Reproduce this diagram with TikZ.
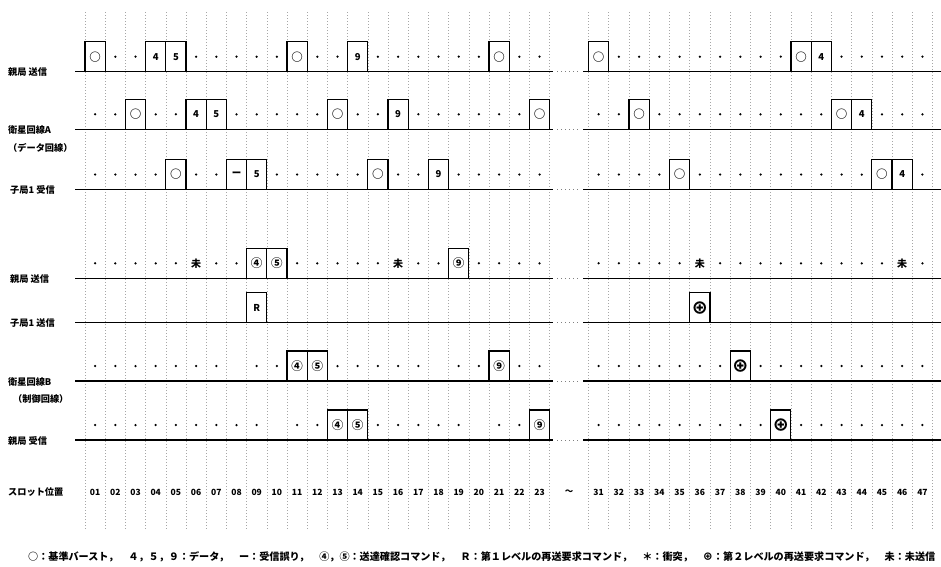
\documentclass[tikz,border=0pt]{standalone}
\usepackage{fontspec}
\newfontfamily\jp{Noto Sans CJK JP}
\newcommand\sym[1]{{\fontsize{11.5}{11.5}\selectfont #1}}
\newcommand\plussym{{\fontsize{17}{17}\selectfont ⊕}}
\begin{document}
\begin{tikzpicture}[x=1pt,y=-1pt,
  declare function={sx(\k)=(\k<30)*(85+(\k-0.5)*20.2)+(\k>30)*(588.5+(\k-30.5)*20.24);},
  slotbox/.style={draw=black,line width=1.2pt,fill=white,minimum width=20.2pt,minimum height=30pt,inner sep=0pt,font=\jp\bfseries\fontsize{9.5}{9.5}\selectfont},
  unsent/.style={inner sep=0pt,font=\jp\bfseries\fontsize{10}{10}\selectfont},
  lab/.style={anchor=west,inner sep=0pt,font=\jp\bfseries\fontsize{9.2}{9.5}\selectfont},
  slotnum/.style={inner sep=0pt,font=\jp\bfseries\fontsize{8.5}{9}\selectfont},
  vgrid/.style={gray!70,line width=0.6pt,dash pattern=on 0.8pt off 2.2pt},
  rowline/.style={black,line width=1.3pt},
  gapdots/.style={gray,line width=0.8pt,dash pattern=on 1pt off 3pt},
  dotmark/.style={fill=black}
]
\useasboundingbox (0,0) rectangle (941,566);
% vertical slot grid
\foreach \k in {1,...,24} \draw[vgrid] ({85+(\k-1)*20.2},12) -- ({85+(\k-1)*20.2},530);
\foreach \k in {31,...,48} \draw[vgrid] ({588.5+(\k-31)*20.24},12) -- ({588.5+(\k-31)*20.24},530);
% row lines
\foreach \b in {71.7,129.3,189.5,278.3,322.7,381,440}{
  \draw[rowline] (75,\b) -- (553,\b);
  \draw[gapdots] (557,\b) -- (581,\b);
  \draw[rowline] (583,\b) -- (941,\b);
}
% row labels
\node[lab] (l1) at (8,72) {親局 送信};
\node[lab] (l2) at (8,130) {衛星回線A};
\node[lab] (l2b) at (8,148) {（データ回線）};
\node[lab] (l3) at (10,190) {子局1 受信};
\node[lab] (l4) at (10,279) {親局 送信};
\node[lab] (l5) at (10,323) {子局1 送信};
\node[lab] (l6) at (8,382) {衛星回線B};
\node[lab] (l6b) at (13,399) {（制御回線）};
\node[lab] (l7) at (8,441) {親局 受信};
\node[lab] (l8) at (8,492) {スロット位置};
% row 1
\foreach \k in {2,3,6,7,8,9,10,12,13,15,16,17,18,19,20,22,23,32,33,34,35,36,37,38,39,40,43,44,45,46,47}
  \fill[dotmark] ({sx(\k)},56.7) circle (1.25pt);
\node[slotbox] (a01) at ({sx(1)},56.7) {\sym{○}};
\node[slotbox] (a04) at ({sx(4)},56.7) {4};
\node[slotbox] (a05) at ({sx(5)},56.7) {5};
\node[slotbox] (a11) at ({sx(11)},56.7) {\sym{○}};
\node[slotbox] (a14) at ({sx(14)},56.7) {9};
\node[slotbox] (a21) at ({sx(21)},56.7) {\sym{○}};
\node[slotbox] (a31) at ({sx(31)},56.7) {\sym{○}};
\node[slotbox] (a41) at ({sx(41)},56.7) {\sym{○}};
\node[slotbox] (a42) at ({sx(42)},56.7) {4};
% row 2
\foreach \k in {1,2,4,5,8,9,10,11,12,14,15,17,18,19,20,21,22,31,32,34,35,36,37,38,39,40,41,42,45,46,47}
  \fill[dotmark] ({sx(\k)},114.3) circle (1.25pt);
\node[slotbox] (b03) at ({sx(3)},114.3) {\sym{○}};
\node[slotbox] (b06) at ({sx(6)},114.3) {4};
\node[slotbox] (b07) at ({sx(7)},114.3) {5};
\node[slotbox] (b13) at ({sx(13)},114.3) {\sym{○}};
\node[slotbox] (b16) at ({sx(16)},114.3) {9};
\node[slotbox] (b23) at ({sx(23)},114.3) {\sym{○}};
\node[slotbox] (b33) at ({sx(33)},114.3) {\sym{○}};
\node[slotbox] (b43) at ({sx(43)},114.3) {\sym{○}};
\node[slotbox] (b44) at ({sx(44)},114.3) {4};
% row 3
\foreach \k in {1,2,3,4,6,7,10,11,12,13,14,16,17,19,20,21,22,23,31,32,33,34,36,37,38,39,40,41,42,43,44,47}
  \fill[dotmark] ({sx(\k)},174.5) circle (1.25pt);
\node[slotbox] (c05) at ({sx(5)},174.5) {\sym{○}};
\node[slotbox] (c08) at ({sx(8)},174.5) {ー};
\node[slotbox] (c09) at ({sx(9)},174.5) {5};
\node[slotbox] (c15) at ({sx(15)},174.5) {\sym{○}};
\node[slotbox] (c18) at ({sx(18)},174.5) {9};
\node[slotbox] (c35) at ({sx(35)},174.5) {\sym{○}};
\node[slotbox] (c45) at ({sx(45)},174.5) {\sym{○}};
\node[slotbox] (c46) at ({sx(46)},174.5) {4};
% row 4
\foreach \k in {1,2,3,4,5,7,8,11,12,13,14,15,17,18,20,21,22,23,31,32,33,34,35,37,38,39,40,41,42,43,44,45,47}
  \fill[dotmark] ({sx(\k)},263.3) circle (1.25pt);
\node[unsent] (d06) at ({sx(6)},263.3) {未};
\node[unsent] (d16) at ({sx(16)},263.3) {未};
\node[unsent] (d36) at ({sx(36)},263.3) {未};
\node[unsent] (d46) at ({sx(46)},263.3) {未};
\node[slotbox] (d09) at ({sx(9)},263.3) {\sym{④}};
\node[slotbox] (d10) at ({sx(10)},263.3) {\sym{⑤}};
\node[slotbox] (d19) at ({sx(19)},263.3) {\sym{⑨}};
% row 5
\node[slotbox] (e09) at ({sx(9)},307.7) {R};
\node[slotbox] (e36) at ({sx(36)},307.7) {\plussym};
% row 6
\foreach \k in {1,2,3,4,5,6,7,9,10,13,14,15,16,17,19,20,22,23,31,32,33,34,35,36,37,39,40,41,42,43,44,45,46,47}
  \fill[dotmark] ({sx(\k)},366) circle (1.25pt);
\node[slotbox] (f11) at ({sx(11)},366) {\sym{④}};
\node[slotbox] (f12) at ({sx(12)},366) {\sym{⑤}};
\node[slotbox] (f21) at ({sx(21)},366) {\sym{⑨}};
\node[slotbox] (f38) at ({sx(38)},366) {\plussym};
% row 7
\foreach \k in {1,2,3,4,5,6,7,8,9,11,12,15,16,17,18,19,21,22,31,32,33,34,35,36,37,38,39,41,42,43,44,45,46,47}
  \fill[dotmark] ({sx(\k)},425) circle (1.25pt);
\node[slotbox] (g13) at ({sx(13)},425) {\sym{④}};
\node[slotbox] (g14) at ({sx(14)},425) {\sym{⑤}};
\node[slotbox] (g23) at ({sx(23)},425) {\sym{⑨}};
\node[slotbox] (g40) at ({sx(40)},425) {\plussym};
% slot numbers
\foreach \k in {1,...,23} \node[slotnum,fill=white,inner sep=0.5pt] (n\k) at ({sx(\k)},492) {\ifnum\k<10 0\fi\k};
\foreach \k in {31,...,47} \node[slotnum,fill=white,inner sep=0.5pt] (n\k) at ({sx(\k)},492) {\k};
\node[slotnum] (tilde) at (569,492) {～};
% legend
\node[anchor=west,inner sep=0pt] (legend) at (28,557) {\resizebox{907pt}{!}{\jp\bfseries\fontsize{9}{9}\selectfont ○：基準バースト，　４，５，９：データ，　ー：受信誤り，　④，⑤：送達確認コマンド，　Ｒ：第１レベルの再送要求コマンド，　＊：衝突，　⊕：第２レベルの再送要求コマンド，　未：未送信}};
\end{tikzpicture}
\end{document}
